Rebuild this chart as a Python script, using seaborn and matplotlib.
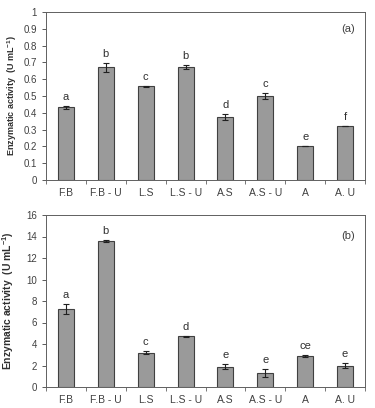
import matplotlib
matplotlib.use("Agg")
import matplotlib.pyplot as plt
import numpy as np
import pandas as pd
import seaborn as sns

sns.set_style("ticks")
plt.rcParams['font.family'] = ['Liberation Sans', 'DejaVu Sans']
plt.rcParams['mathtext.fontset'] = 'custom'
plt.rcParams['mathtext.rm'] = 'Liberation Sans'
plt.rcParams['mathtext.bf'] = 'Liberation Sans:bold'

# data
labels = ['F.B', 'F.B - U', 'L.S', 'L.S - U', 'A.S', 'A.S - U', 'A', 'A. U']

act_a = [0.432, 0.672, 0.557, 0.675, 0.373, 0.502, 0.200, 0.322]
err_a = [0.011, 0.027, 0.003, 0.012, 0.018, 0.017, 0.0, 0.0]
let_a = ['a', 'b', 'c', 'b', 'd', 'c', 'e', 'f']

act_b = [7.25, 13.6, 3.2, 4.7, 1.9, 1.3, 2.9, 2.0]
err_b = [0.5, 0.08, 0.15, 0.07, 0.25, 0.35, 0.1, 0.2]
let_b = ['a', 'b', 'c', 'd', 'e', 'e', 'ce', 'e']

fig = plt.figure(figsize=(3.75, 4.08), dpi=100)
ax1 = fig.add_axes([46/375, 1-180/408, 319/375, 168/408])
ax2 = fig.add_axes([46/375, 1-387/408, 319/375, 172/408])

def panel(ax, vals, errs, lets, ymax, step, tag, tag_y, lab_x, lab_fs, fmt):
    df = pd.DataFrame({'sample': labels, 'act': vals})
    sns.barplot(data=df, x='sample', y='act', ax=ax, color='#9a9a9a',
                saturation=1, width=0.4, edgecolor='#404040', linewidth=0.8)
    ax.errorbar(range(len(labels)), vals, yerr=errs, fmt='none',
                ecolor='#202020', elinewidth=0.8, capsize=2.2, capthick=0.8)
    for i, (v, e, l) in enumerate(zip(vals, errs, lets)):
        ax.annotate(l, (i, v + e), xytext=(0, 6.5), textcoords='offset points',
                    ha='center', va='center', fontsize=8, color='#303030')
    n = int(round(ymax / step))
    ticks = [round(k * step, 2) for k in range(n + 1)]
    ax.set_ylim(0, ymax)
    ax.set_yticks(ticks)
    ax.set_yticklabels([fmt(t) for t in ticks])
    ax.set_xlim(-0.5, len(labels) - 0.5)
    # tick marks between categories, like the spreadsheet original
    ax.set_xticks(np.arange(-0.5, len(labels)), minor=True)
    ax.tick_params(axis='x', which='major', length=0, labelsize=7.5, pad=6, colors='#404040')
    ax.tick_params(axis='x', which='minor', length=3, width=0.6, color='#606060')
    ax.tick_params(axis='y', labelsize=7, colors='#404040', length=3, width=0.6)
    ax.set_xlabel('')
    ax.set_ylabel(r'Enzymatic activity  (U mL$^{\mathbf{-1}}$)', fontsize=lab_fs,
                  fontweight='bold', color='#303030')
    ax.yaxis.set_label_coords(lab_x, 0.5)
    for s in ax.spines.values():
        s.set_color('#606060')
        s.set_linewidth(0.7)
    ax.text(0.947, tag_y, tag, transform=ax.transAxes, ha='center', va='center',
            fontsize=8, color='#404040')

panel(ax1, act_a, err_a, let_a, 1.0, 0.1, '(a)', 0.9, -0.085, 6.5,
      lambda v: '0' if v == 0 else ('1' if v == 1 else f'{v:g}'))
panel(ax2, act_b, err_b, let_b, 16, 2, '(b)', 0.88, -0.094, 7.5,
      lambda v: f'{int(v)}')

fig.savefig('out.png', dpi=100)
